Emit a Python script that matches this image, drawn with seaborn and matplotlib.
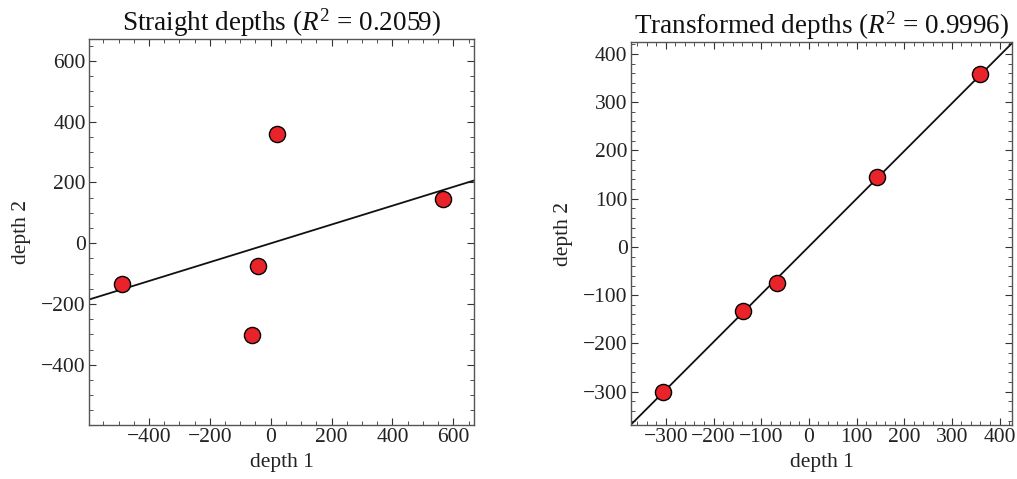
import numpy as np
import pandas as pd
import matplotlib
matplotlib.use("Agg")
import matplotlib.pyplot as plt
import seaborn as sns
from matplotlib.ticker import MultipleLocator

sns.set_theme(style="white")
plt.rcParams['font.family'] = ['Liberation Serif', 'DejaVu Serif']
plt.rcParams['mathtext.fontset'] = 'custom'
plt.rcParams['mathtext.rm'] = 'Liberation Serif'
plt.rcParams['mathtext.it'] = 'Liberation Serif:italic'

# Data
straight_d1 = [-490, -41, -60, 20, 567]
straight_d2 = [-133, -74, -301, 360, 145]
trans_d1 = [-307, -138, -66, 143, 360]
trans_d2 = [-300, -132, -74, 144, 358]
titles = ["Straight depths ($R^2$ = 0.2059)", "Transformed depths ($R^2$ = 0.9996)"]

fig = plt.figure(figsize=(10.17, 4.79), dpi=100)
ax1 = fig.add_axes([0.0878, 0.1127, 0.3786, 0.8059])
ax2 = fig.add_axes([0.6205, 0.1127, 0.3745, 0.7990])

red = "#E8232A"
panels = [
    (ax1, straight_d1, straight_d2, titles[0], (-596, 669), (-598, 672), 200, 50),
    (ax2, trans_d1, trans_d2, titles[1], (-373, 426), (-369, 424), 100, 20),
]
for ax, x, y, title, xl, yl, maj, mnr in panels:
    df = pd.DataFrame({"depth 1": x, "depth 2": y})
    ax.set_xlim(*xl)
    ax.set_ylim(*yl)
    sns.regplot(data=df, x="depth 1", y="depth 2", ax=ax, ci=None, truncate=False,
                scatter_kws=dict(s=135, color=red, edgecolor="black", linewidths=1.0,
                                 alpha=1, zorder=3),
                line_kws=dict(color="#111111", lw=1.3, zorder=2))
    ax.set_xlim(*xl)
    ax.set_ylim(*yl)
    ax.xaxis.set_major_locator(MultipleLocator(maj))
    ax.xaxis.set_minor_locator(MultipleLocator(mnr))
    ax.yaxis.set_major_locator(MultipleLocator(maj))
    ax.yaxis.set_minor_locator(MultipleLocator(mnr))
    ax.tick_params(which="both", direction="in", top=True, right=True,
                   bottom=True, left=True, color="#333333", labelsize=15.5,
                   labelcolor="#222222", pad=2.5)
    ax.tick_params(which="major", length=5, width=0.8)
    ax.tick_params(which="minor", length=2.8, width=0.6)
    for sp in ax.spines.values():
        sp.set_color("#555555")
        sp.set_linewidth(1.0)
    ax.set_title(title, fontsize=19.5, color="#111111", pad=3)
    ax.set_xlabel("depth 1", fontsize=15.5, color="#222222", labelpad=4)
    ax.set_ylabel("depth 2", fontsize=15.5, color="#222222", labelpad=7)
    ax.grid(False)

fig.savefig("out.png", dpi=100)
